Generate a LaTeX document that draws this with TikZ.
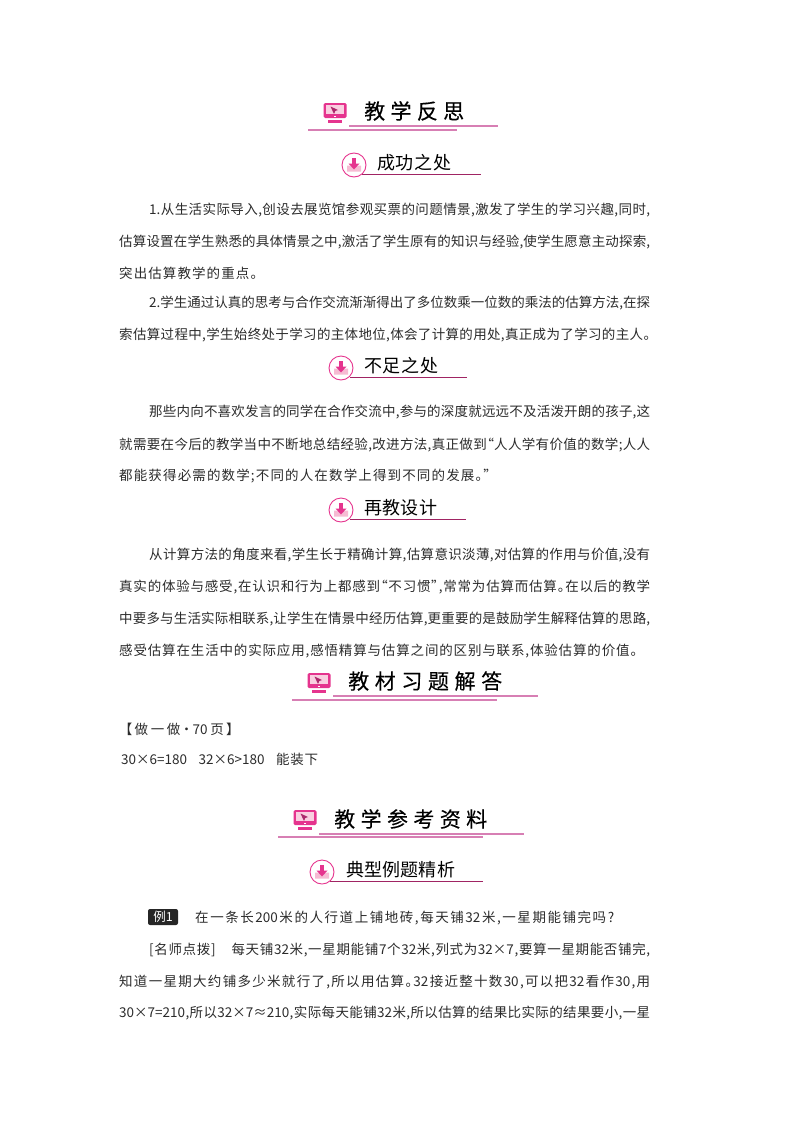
\documentclass[tikz,border=0pt]{standalone}
\usepackage{fontspec}
\setmainfont[RawFeature=+palt]{Noto Sans CJK SC}
\newfontfamily\headfont[RawFeature=+palt,FakeBold=0.35]{Noto Sans CJK SC}
\definecolor{rosepink}{HTML}{E5348E}
\definecolor{rulepink}{HTML}{D77FB4}
\definecolor{palepink}{HTML}{F6BBD3}
\definecolor{inkgrey}{HTML}{2B2B2B}
\makeatletter
% spread the characters of one printed line over a given width
\newcommand{\fitline}[2]{\hbox to #1pt{\@tfor\fitchar:=#2\do{\fitchar\hskip 0pt plus 1fil minus 1fil}\unskip}}
\makeatother
\newcommand{\gap}{\hspace*{9pt}}
\newcommand{\widegap}{\hspace*{14pt}}
\tikzset{
    bodyline/.style={anchor=base west, inner sep=0pt, text=inkgrey, font=\fontsize{13.5}{14}\selectfont},
    bighead/.style={anchor=base west, inner sep=0pt, text=black, font=\headfont\fontsize{21}{21}\selectfont},
    smallhead/.style={anchor=base west, inner sep=0pt, text=black, font=\fontsize{18}{18}\selectfont},
    ruleline/.style={draw=rulepink, line width=1.2pt},
    darkrule/.style={draw=rosepink!70!black, line width=1pt},
    screenicon/.pic={
        \fill[rosepink, rounded corners=1.5pt] (-11.5,-10) rectangle (11.5,5);
        \fill[palepink!70] (-8.7,-8) rectangle (8.7,1.2);
        \fill[rosepink!75!black] (-4.5,-6.5) -- (3,-3) -- (0.3,-2) -- (-1,1) -- cycle;
        \fill[white] (-0.7,2.6) rectangle (0.7,3.6);
        \fill[rosepink] (-7,7) rectangle (7,10);
    },
    downicon/.pic={
        \fill[palepink] (-7,0.5) -- (-3,0.5) -- (0,4) -- (3,0.5) -- (7,0.5) -- (7,6.5) -- (-7,6.5) -- cycle;
        \fill[rosepink] (-2,-7.5) rectangle (2,-1.5);
        \fill[rosepink] (-5.5,-1.5) -- (5.5,-1.5) -- (0,4.5) -- cycle;
        \draw[rosepink, line width=0.9pt] (0,0) circle (12);
    },
}
\begin{document}
\begin{tikzpicture}[x=1pt, y=-1pt]
    \useasboundingbox (0,0) rectangle (800,1132);

    % first heading block
    \pic at (335,113) {screenicon};
    \node[bighead] (headreflect) at (364,119) {\fitline{100}{教学反思}};
    \draw[ruleline] (349,126) -- (498,126);
    \draw[ruleline] (308,130) -- (457,130);
    \draw[darkrule] (362,174) -- (481,174);
    \pic at (354,165) {downicon};
    \node[smallhead] (headsuccess) at (377,169) {\fitline{74}{成功之处}};

    \node[bodyline] (lineA) at (149,214) {\fitline{501}{{1.}从生活实际导入,创设去展览馆参观买票的问题情景,激发了学生的学习兴趣,同时,}};
    \node[bodyline] (lineB) at (119,246) {\fitline{531}{估算设置在学生熟悉的具体情景之中,激活了学生原有的知识与经验,使学生愿意主动探索,}};
    \node[bodyline] (lineC) at (119,278) {\fitline{138}{突出估算教学的重点。}};
    \node[bodyline] (lineD) at (149,307) {\fitline{501}{{2.}学生通过认真的思考与合作交流渐渐得出了多位数乘一位数的乘法的估算方法,在探}};
    \node[bodyline] (lineE) at (119,339) {\fitline{531}{索估算过程中,学生始终处于学习的主体地位,体会了计算的用处,真正成为了学习的主人。}};

    % second heading block
    \draw[darkrule] (350,377) -- (467,377);
    \pic at (341,368) {downicon};
    \node[smallhead] (headlack) at (364,372) {\fitline{74}{不足之处}};

    \node[bodyline] (lineF) at (149,416) {\fitline{501}{那些内向不喜欢发言的同学在合作交流中,参与的深度就远远不及活泼开朗的孩子,这}};
    \node[bodyline] (lineG) at (119,449) {\fitline{531}{就需要在今后的教学当中不断地总结经验,改进方法,真正做到“人人学有价值的数学;人人}};
    \node[bodyline] (lineH) at (119,480) {\fitline{371}{都能获得必需的数学;不同的人在数学上得到不同的发展。”}};

    % third heading block
    \draw[darkrule] (350,519) -- (466,519);
    \pic at (341,510) {downicon};
    \node[smallhead] (headredesign) at (364,514) {\fitline{73}{再教设计}};

    \node[bodyline] (lineI) at (149,559) {\fitline{501}{从计算方法的角度来看,学生长于精确计算,估算意识淡薄,对估算的作用与价值,没有}};
    \node[bodyline] (lineJ) at (119,591) {\fitline{531}{真实的体验与感受,在认识和行为上都感到“不习惯”,常常为估算而估算。在以后的教学}};
    \node[bodyline] (lineK) at (119,623) {\fitline{531}{中要多与生活实际相联系,让学生在情景中经历估算,更重要的是鼓励学生解释估算的思路,}};
    \node[bodyline] (lineL) at (119,655) {\fitline{518}{感受估算在生活中的实际应用,感悟精算与估算之间的区别与联系,体验估算的价值。}};

    % exercise answers
    \pic at (319,683) {screenicon};
    \node[bighead] (headanswers) at (348,689) {\fitline{154}{教材习题解答}};
    \draw[ruleline] (333,696) -- (538,696);
    \draw[ruleline] (292,700) -- (497,700);

    \node[bodyline] (lineM) at (125,734) {\fitline{108}{【做一做·{70}页】}};
    \node[bodyline] (lineN) at (121,764) {\fitline{197}{{30×6=180}\gap{}{32×6>180}\gap{}能装下}};

    % reference material
    \pic at (305,820) {screenicon};
    \node[bighead] (headrefs) at (334,827) {\fitline{153}{教学参考资料}};
    \draw[ruleline] (319,834) -- (524,834);
    \draw[ruleline] (278,837) -- (483,837);
    \draw[darkrule] (330,881) -- (483,881);
    \pic at (322,872) {downicon};
    \node[smallhead] (headexample) at (346,876) {\fitline{109}{典型例题精析}};

    \node[fill=black!85, rounded corners=2pt, minimum width=30pt, minimum height=16pt, inner sep=0pt, text=white, font=\fontsize{12.5}{13}\selectfont] (tagone) at (163,917) {例1};
    \node[bodyline] (lineO) at (195,922) {\fitline{419}{在一条长{200}米的人行道上铺地砖,每天铺{32}米,一星期能铺完吗?}};
    \node[bodyline] (lineP) at (149,954) {\fitline{501}{[名师点拨]\widegap{}每天铺{32}米,一星期能铺{7}个{32}米,列式为{32×7},要算一星期能否铺完,}};
    \node[bodyline] (lineQ) at (119,986) {\fitline{531}{知道一星期大约铺多少米就行了,所以用估算。{32}接近整十数{30},可以把{32}看作{30},用}};
    \node[bodyline] (lineR) at (119,1017) {\fitline{531}{{30×7=210},所以{32×7≈210},实际每天能铺{32}米,所以估算的结果比实际的结果要小,一星}};
\end{tikzpicture}
\end{document}
